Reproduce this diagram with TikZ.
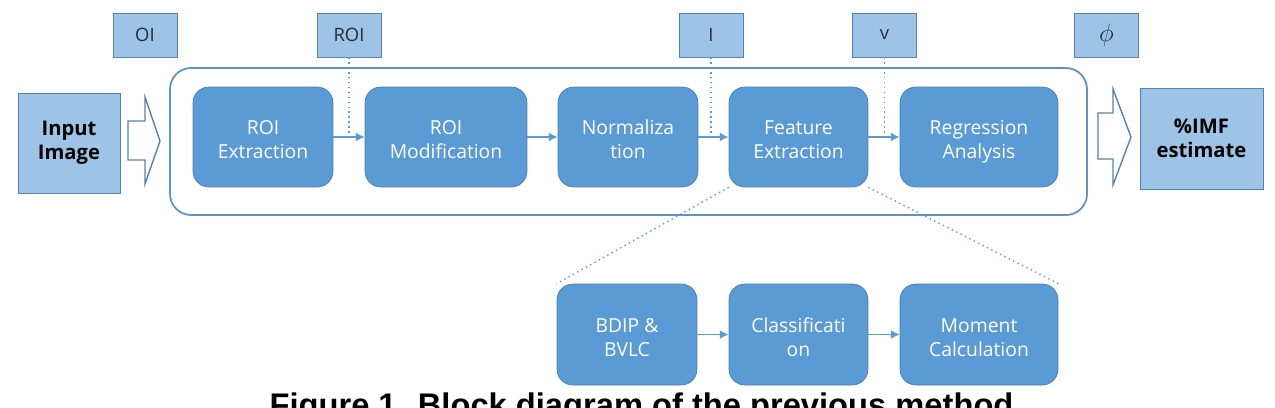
\documentclass[tikz,border=0pt]{standalone}
\usepackage{fontspec}
\setmainfont{Open Sans}
\newfontfamily\capfont{Liberation Sans}
\usetikzlibrary{arrows.meta}

\definecolor{boxblue}{RGB}{91,155,213}
\definecolor{boxedge}{RGB}{70,125,180}
\definecolor{paleblue}{RGB}{157,195,230}
\definecolor{paleedge}{RGB}{85,130,175}
\definecolor{framecol}{RGB}{95,145,195}
\definecolor{inkdark}{RGB}{35,45,55}

% two-line stage label, set a little below the middle
\newcommand{\stagelabel}[2]{\rule{0pt}{14pt}#1\\#2\rule[-3pt]{0pt}{3pt}}

\tikzset{
    stage/.style={draw=boxedge, fill=boxblue, rounded corners=9pt, text=white, align=center,
        font=\fontsize{11}{13.6}\selectfont, minimum height=2cm, inner sep=0pt},
    signal/.style={draw=paleedge, fill=paleblue, minimum width=1.28cm, minimum height=0.88cm,
        inner sep=0pt, text=inkdark, font=\fontsize{10.5}{12}\selectfont},
    terminal/.style={draw=paleedge, fill=paleblue, align=center, inner sep=0pt,
        font=\fontsize{11.5}{13.6}\selectfont\bfseries},
    flow/.style={draw=boxblue, thick, -{Latex[length=5pt,width=5pt]}},
    hint/.style={draw=boxblue, thick, dotted},
    hollow/.style={draw=paleedge, fill=white, line width=0.8pt},
}

\begin{document}
\begin{tikzpicture}[x=0.02cm, y=-0.02cm]
    \clip (0,0) rectangle (1275,407);

    % Outer frame of the method
    \draw[framecol, line width=1pt, rounded corners=12pt] (170,68) rectangle (1087,215);

    % Input and output
    \node[terminal, minimum width=2.04cm, minimum height=2cm] (input) at (69,143) {Input\\Image};
    \node[terminal, minimum width=2.46cm, minimum height=2.02cm] (imf) at (1201.5,138.5) {\%IMF\\estimate};

    % Hollow arrows
    \draw[hollow] (128,121) -- (145,121) -- (145,97) -- (160,141) -- (145,184) -- (145,160) -- (128,160) -- cycle;
    \draw[hollow] (1098,113) -- (1113,113) -- (1113,89) -- (1131,137) -- (1113,185) -- (1113,159) -- (1098,159) -- cycle;

    % Main stages
    \node[stage, minimum width=2.8cm] (roiext) at (263,137) {\stagelabel{ROI}{Extraction}};
    \node[stage, minimum width=3.24cm] (roimod) at (446,137) {\stagelabel{ROI}{Modification}};
    \node[stage, minimum width=2.8cm] (norm) at (628,137) {\stagelabel{Normaliza}{tion}};
    \node[stage, minimum width=2.78cm] (featext) at (798.5,137) {\stagelabel{Feature}{Extraction}};
    \node[stage, minimum width=3.16cm] (regr) at (979,137) {\stagelabel{Regression}{Analysis}};

    % Sub-stages of feature extraction
    \node[stage, minimum width=2.8cm, minimum height=2.02cm] (bdip) at (627,334.5) {\stagelabel{BDIP \&}{BVLC}};
    \node[stage, minimum width=2.78cm, minimum height=2.02cm] (classif) at (798.5,334.5) {\stagelabel{Classificati}{on}};
    \node[stage, minimum width=3.16cm, minimum height=2.02cm] (moment) at (979,334.5) {\stagelabel{Moment}{Calculation}};

    % Signals
    \node[signal] (oi) at (145,35) {OI};
    \node[signal] (roisig) at (349,35) {ROI};
    \node[signal] (isig) at (711,35) {I};
    \node[signal] (vsig) at (884.5,35) {v};
    \node[signal, font=\fontsize{15}{15}\selectfont] (phisig) at (1106.5,35) {$\phi$};

    % Flow
    \draw[flow] (roiext) -- (roimod);
    \draw[flow] (roimod) -- (norm);
    \draw[flow] (norm) -- (featext);
    \draw[flow] (featext) -- (regr);
    \draw[flow] (bdip) -- (classif);
    \draw[flow] (classif) -- (moment);

    % Dotted hints
    \draw[hint] (roisig.south) -- (roisig.south |- roiext.east);
    \draw[hint] (isig.south) -- (isig.south |- norm.east);
    \draw[hint] (vsig.south) -- (vsig.south |- featext.east);
    \draw[hint] (featext.south west) -- (bdip.north west);
    \draw[hint] (featext.south east) -- (moment.north east);

    % Caption
    \node[font=\capfont\bfseries\fontsize{18.6}{22}\selectfont, anchor=base] (caption) at (641.5,416)
        {Figure 1. Block diagram of the previous method};
\end{tikzpicture}
\end{document}
